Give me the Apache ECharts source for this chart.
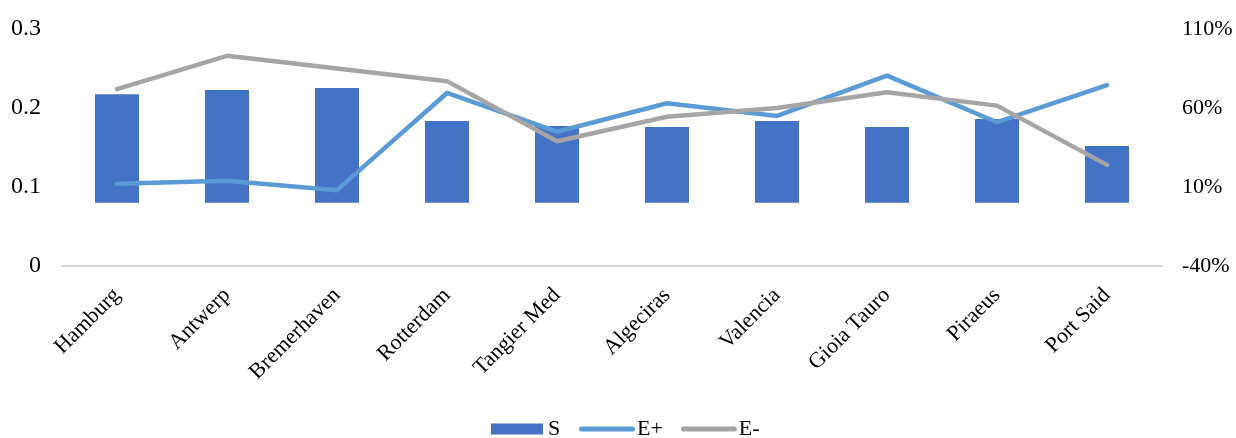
<!DOCTYPE html>
<html>
<head>
<meta charset="utf-8">
<script src="https://cdn.jsdelivr.net/npm/echarts@6/dist/echarts.min.js"></script>
<style>html,body{margin:0;padding:0;background:#fff}#c{width:1236px;height:438px}</style>
</head>
<body>
<div id="c"></div>
<script>
const categories = ['Hamburg','Antwerp','Bremerhaven','Rotterdam','Tangier Med','Algeciras','Valencia','Gioia Tauro','Piraeus','Port Said'];
const sValues = [68.7, 71.4, 72.7, 51.8, 48.6, 48.0, 51.8, 48.0, 53.0, 35.9];
const ePlus = [0.104, 0.108, 0.096, 0.219, 0.170, 0.206, 0.190, 0.241, 0.182, 0.229];
const eMinus = [0.224, 0.266, 0.250, 0.234, 0.158, 0.189, 0.200, 0.220, 0.203, 0.128];

const font = 'Liberation Serif';
const lineIcon = 'path://M2.5,0 H53.5 A2.5,2.5 0 0 1 53.5,5 H2.5 A2.5,2.5 0 0 1 2.5,0 Z';
const chart = echarts.init(document.getElementById('c'));
chart.setOption({
  animation: false,
  textStyle: {fontFamily: font},
  grid: {left: 62, right: 74, top: 29, bottom: 172, containLabel: false},
  legend: [
    {left: 491, top: 418, itemWidth: 52, itemHeight: 11, padding: 0,
     textStyle: {fontFamily: font, fontSize: 22, color: '#000'},
     data: [{name: 'S', icon: 'rect'}]},
    {left: 579, top: 418, itemWidth: 56, itemHeight: 5, itemGap: 18, padding: 0,
     textStyle: {fontFamily: font, fontSize: 22, color: '#000', padding: [0, 0, 0, -3]},
     data: [{name: 'E+', icon: lineIcon}, {name: 'E-', icon: lineIcon}]}
  ],
  xAxis: {
    type: 'category', data: categories,
    axisLine: {lineStyle: {color: '#D9D9D9', width: 2}},
    axisTick: {show: false},
    axisLabel: {rotate: 45, fontFamily: font, fontSize: 22, color: '#000', margin: 26, interval: 0}
  },
  yAxis: [
    {type: 'value', min: 0, max: 0.3, interval: 0.1, splitLine: {show: false},
     axisLine: {show: false}, axisTick: {show: false},
     axisLabel: {fontFamily: font, fontSize: 24, color: '#000', margin: 21, formatter: v => String(+v.toFixed(1))}},
    {type: 'value', min: -40, max: 110, interval: 50, splitLine: {show: false},
     axisLine: {show: false}, axisTick: {show: false},
     axisLabel: {fontFamily: font, fontSize: 22, color: '#000', margin: 20, formatter: '{value}%'}}
  ],
  series: [
    {name: 'S', type: 'bar', yAxisIndex: 1, data: sValues, barWidth: 44,
     itemStyle: {color: '#4472C4'}},
    {name: 'E+', type: 'line', yAxisIndex: 0, data: ePlus, symbol: 'none',
     lineStyle: {color: '#5B9BD5', width: 4.5, cap: 'round', join: 'round'}, itemStyle: {color: '#5B9BD5'}},
    {name: 'E-', type: 'line', yAxisIndex: 0, data: eMinus, symbol: 'none',
     lineStyle: {color: '#A5A5A5', width: 4.5, cap: 'round', join: 'round'}, itemStyle: {color: '#A5A5A5'}}
  ]
});
</script>
</body>
</html>
